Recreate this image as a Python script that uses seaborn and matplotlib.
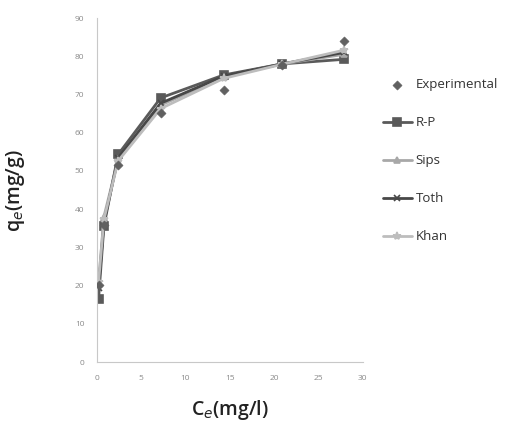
import numpy as np
import pandas as pd
import matplotlib
matplotlib.use("Agg")
import matplotlib.pyplot as plt
import seaborn as sns

# equilibrium concentration (mg/l)
ce = [0.2, 0.8, 2.4, 7.2, 14.3, 20.9, 27.9]

# measured and fitted uptake (mg/g)
experimental = [20.2, 35.9, 51.6, 65.2, 71.2, 77.7, 84.0]
rp = [16.6, 35.5, 54.3, 69.1, 75.1, 78.0, 79.2]
sips = [20.5, 38.0, 53.0, 67.2, 74.6, 78.0, 80.5]
toth = [19.3, 36.5, 53.4, 67.7, 74.8, 78.0, 81.0]
khan = [21.0, 37.3, 52.6, 66.3, 74.2, 77.9, 81.6]

models = {"R-P": rp, "Sips": sips, "Toth": toth, "Khan": khan}
model_style = {
    "R-P": dict(color="#5a5a5a", marker="s", ms=6, lw=2.0),
    "Sips": dict(color="#a8a8a8", marker="^", ms=5, lw=2.0),
    "Toth": dict(color="#484848", marker="x", ms=5, lw=2.0),
    "Khan": dict(color="#bdbdbd", marker="*", ms=6, lw=2.0),
}

sns.set_style("white")
plt.rcParams["font.family"] = ["Open Sans", "DejaVu Sans"]

fig = plt.figure(figsize=(5.29, 4.29), dpi=100)
ax = fig.add_axes([0.183, 0.156, 0.503, 0.802])

for name, vals in models.items():
    st = model_style[name]
    df = pd.DataFrame({"ce": ce, "qe": vals})
    sns.lineplot(data=df, x="ce", y="qe", ax=ax, color=st["color"], lw=st["lw"],
                 marker=st["marker"], markersize=st["ms"], markeredgecolor=st["color"],
                 markeredgewidth=1.2, label=name, zorder=2)

exp_df = pd.DataFrame({"ce": ce, "qe": experimental})
sns.scatterplot(data=exp_df, x="ce", y="qe", ax=ax, marker="D", s=22,
                color="#606060", edgecolor="#606060", label="Experimental", zorder=3)

ax.set_xlim(0, 30)
ax.set_ylim(0, 90)
ax.set_xticks(range(0, 31, 5))
ax.set_yticks(range(0, 91, 10))
ax.tick_params(axis="both", labelsize=6, colors="#8a8a8a", length=3, width=0.6,
               direction="out", pad=6)
for s in ["top", "right"]:
    ax.spines[s].set_visible(False)
for s in ["left", "bottom"]:
    ax.spines[s].set_color("#c8c8c8")
    ax.spines[s].set_linewidth(0.8)

ax.set_xlabel("C$_e$(mg/l)", fontsize=14, color="#222222", labelpad=12,
              fontweight="semibold")
ax.set_ylabel("q$_e$(mg/g)", fontsize=14, color="#222222", labelpad=34,
              fontweight="semibold")

handles, labels = ax.get_legend_handles_labels()
order = [labels.index(l) for l in ["Experimental", "R-P", "Sips", "Toth", "Khan"]]
ax.legend([handles[i] for i in order], [labels[i] for i in order],
          loc="upper left", bbox_to_anchor=(1.03, 0.86), frameon=False,
          fontsize=9.5, labelspacing=1.9, handlelength=2.2, handletextpad=0.3,
          labelcolor="#333333")

fig.savefig("out.png", dpi=100)
